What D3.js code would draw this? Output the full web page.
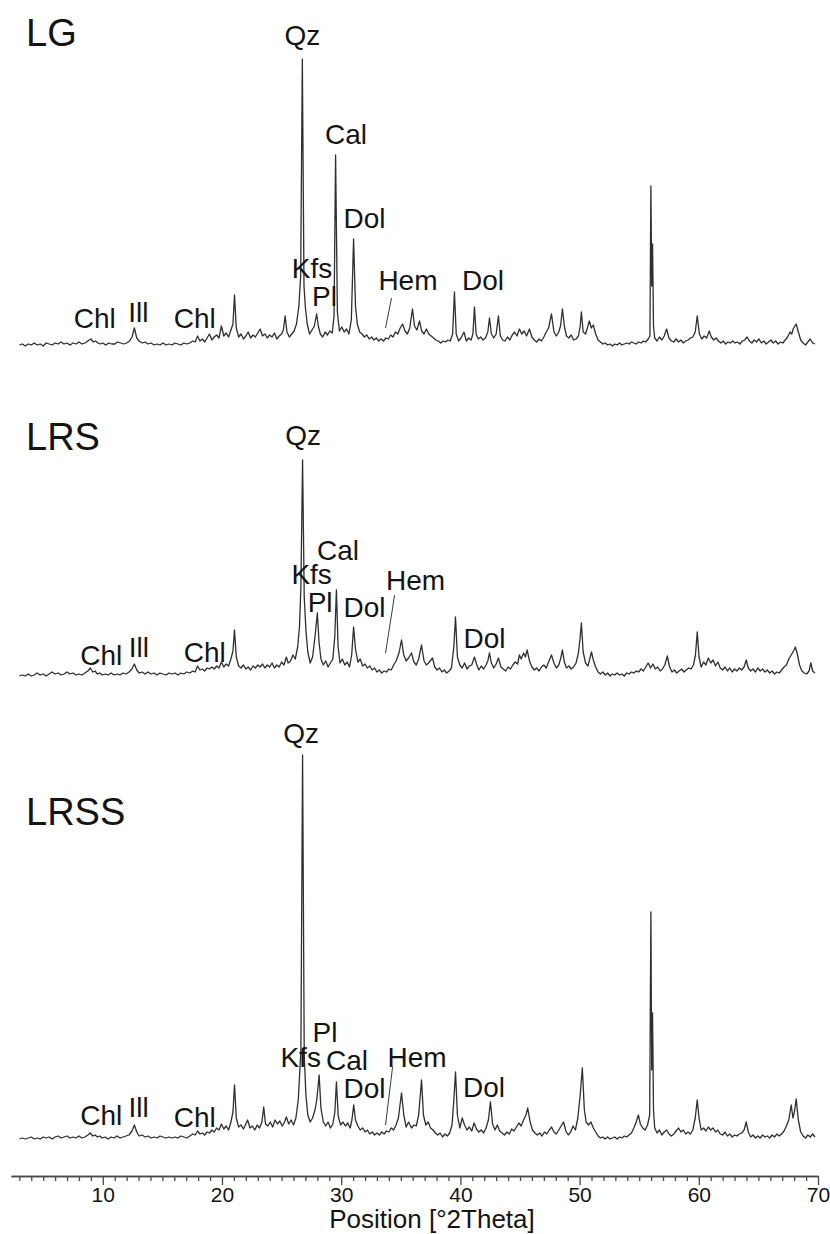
<!DOCTYPE html>
<html lang="en">
<head>
<meta charset="utf-8"/>
<style>
  body { margin: 0; background: #ffffff; }
  text { font-family: "Liberation Sans", Arial, sans-serif; fill: #141414; }
  .trace { fill: none; stroke: #2f2f2f; stroke-width: 1.3; stroke-linejoin: round; }
  .pointer { stroke: #3c3c3c; stroke-width: 1; }
  .axis path, .axis line { stroke: #4a4a4a; stroke-width: 1.3; }
  .axis text { font-size: 21px; fill: #141414; font-family: "Liberation Sans", Arial, sans-serif; }
</style>
</head>
<body>
<svg id="chart" width="830" height="1234"></svg>

<script src="https://d3js.org/d3.v7.min.js"></script>
<script>
// ---- data: diffractograms, [°2Theta, intensity above baseline] ----
let lgPattern = [
 [3.0,1],[3.25,2],[3.5,0],[3.75,2],[4.0,1],[4.25,3],[4.5,1],[4.75,2],[5.0,0],[5.25,3],[5.5,2],[5.75,1],
 [6.0,3],[6.25,2],[6.5,4],[6.75,2],[7.0,3],[7.25,1],[7.5,3],[7.75,2],[8.0,4],[8.25,2],[8.5,3],[8.75,5],
 [9.0,7],[9.2,4],[9.4,5],[9.6,3],[9.8,2],[10.0,3],[10.25,1],[10.5,3],[10.75,2],[11.0,2],[11.25,4],[11.5,3],
 [11.75,2],[12.0,3],[12.25,5],[12.45,9],[12.65,18],[12.85,8],[13.05,5],[13.3,3],[13.55,4],[13.8,2],[14.05,3],
 [14.3,1],[14.55,2],[14.8,1],[15.05,3],[15.3,1],[15.55,2],[15.8,1],[16.05,3],[16.3,2],[16.55,1],[16.8,3],
 [17.05,2],[17.3,3],[17.55,5],[17.75,4],[17.95,10],[18.15,5],[18.35,7],[18.55,4],[18.75,8],[18.95,12],
 [19.15,6],[19.35,9],[19.55,11],[19.75,8],[19.95,20],[20.15,10],[20.35,13],[20.55,9],[20.75,16],[20.92,22],
 [21.05,51],[21.2,18],[21.4,9],[21.6,12],[21.8,7],[22.0,10],[22.2,14],[22.4,8],[22.6,11],[22.8,9],[23.0,13],
 [23.2,17],[23.4,10],[23.6,12],[23.8,8],[24.0,11],[24.2,9],[24.4,13],[24.6,7],[24.8,10],[25.0,12],[25.15,16],
 [25.3,30],[25.45,14],[25.65,9],[25.85,12],[26.05,15],[26.25,22],[26.45,40],[26.6,70],[26.74,287],[26.88,60],
 [27.0,38],[27.15,22],[27.35,12],[27.55,16],[27.75,20],[27.94,32],[28.08,20],[28.25,12],[28.45,9],[28.65,14],
 [28.85,11],[29.05,15],[29.25,13],[29.4,30],[29.53,191],[29.68,34],[29.85,15],[30.05,19],[30.25,14],
 [30.45,17],[30.65,12],[30.85,26],[31.04,107],[31.2,40],[31.35,22],[31.55,14],[31.75,12],[31.95,9],
 [32.15,11],[32.35,7],[32.55,9],[32.75,6],[32.95,8],[33.15,5],[33.35,7],[33.55,5],[33.75,8],[33.95,7],
 [34.15,11],[34.35,9],[34.55,14],[34.75,12],[34.95,18],[35.15,22],[35.35,15],[35.55,12],[35.75,18],
 [35.98,37],[36.15,20],[36.35,16],[36.57,25],[36.75,15],[36.95,12],[37.15,17],[37.35,12],[37.55,10],
 [37.75,8],[37.95,6],[38.15,5],[38.35,3],[38.55,5],[38.75,4],[38.95,6],[39.15,5],[39.35,12],[39.5,54],
 [39.65,12],[39.85,5],[40.05,8],[40.3,14],[40.5,5],[40.7,8],[40.9,6],[41.05,12],[41.18,39],[41.32,12],
 [41.5,7],[41.7,9],[41.9,6],[42.1,8],[42.3,14],[42.44,28],[42.6,12],[42.8,8],[43.0,12],[43.19,30],[43.35,10],
 [43.55,6],[43.75,5],[43.95,9],[44.15,6],[44.35,11],[44.55,14],[44.75,10],[44.95,17],[45.15,12],[45.35,15],
 [45.55,10],[45.79,17],[46.0,9],[46.2,6],[46.4,4],[46.6,7],[46.8,5],[47.0,9],[47.2,14],[47.4,18],[47.64,32],
 [47.85,14],[48.05,10],[48.25,14],[48.4,20],[48.56,37],[48.72,20],[48.9,10],[49.1,8],[49.3,11],[49.5,6],
 [49.7,7],[49.9,10],[50.05,20],[50.15,34],[50.3,14],[50.5,12],[50.65,18],[50.82,25],[50.98,18],[51.15,21],
 [51.35,12],[51.55,6],[51.75,4],[51.95,2],[52.15,3],[52.35,1],[52.55,2],[52.75,0],[52.95,2],[53.15,1],
 [53.35,3],[53.55,1],[53.75,2],[53.95,3],[54.15,2],[54.35,4],[54.55,3],[54.75,2],[54.95,4],[55.15,3],
 [55.35,5],[55.55,4],[55.75,7],[55.9,10],[55.98,160],[56.05,60],[56.12,102],[56.2,20],[56.3,8],[56.5,5],
 [56.7,9],[56.9,6],[57.1,10],[57.3,17],[57.5,8],[57.7,5],[57.9,4],[58.1,7],[58.3,4],[58.5,6],[58.7,3],
 [58.9,5],[59.1,6],[59.3,8],[59.5,9],[59.7,14],[59.87,30],[60.05,12],[60.25,7],[60.45,10],[60.65,8],
 [60.88,15],[61.05,9],[61.25,6],[61.45,8],[61.65,5],[61.85,3],[62.05,5],[62.25,2],[62.45,4],[62.65,3],
 [62.85,5],[63.05,3],[63.25,4],[63.45,2],[63.65,5],[63.85,6],[64.05,9],[64.25,5],[64.45,3],[64.65,6],
 [64.85,4],[65.05,7],[65.25,3],[65.45,5],[65.65,2],[65.85,4],[66.05,6],[66.25,3],[66.45,5],[66.65,2],
 [66.85,4],[67.05,3],[67.25,6],[67.45,9],[67.65,14],[67.8,12],[67.95,18],[68.17,22],[68.35,14],[68.55,6],
 [68.75,3],[68.95,1],[69.15,4],[69.35,7],[69.55,3],[69.75,2]
]

let lrsPattern = [
 [3.0,1],[3.25,2],[3.5,1],[3.75,3],[4.0,1],[4.25,2],[4.5,4],[4.75,2],[5.0,3],[5.25,1],[5.5,3],[5.75,5],
 [6.0,3],[6.25,4],[6.5,2],[6.75,3],[7.0,5],[7.25,3],[7.5,4],[7.75,2],[8.0,3],[8.25,2],[8.5,4],[8.75,6],
 [8.95,9],[9.15,5],[9.35,6],[9.55,3],[9.75,4],[9.95,2],[10.2,3],[10.45,2],[10.7,4],[10.95,2],[11.2,3],
 [11.45,2],[11.7,4],[11.95,3],[12.2,5],[12.45,8],[12.65,13],[12.85,7],[13.05,4],[13.3,5],[13.55,3],[13.8,5],
 [14.05,3],[14.3,4],[14.55,2],[14.8,4],[15.05,3],[15.3,2],[15.55,4],[15.8,3],[16.05,4],[16.3,2],[16.55,4],
 [16.8,3],[17.05,5],[17.3,4],[17.55,6],[17.75,5],[17.95,11],[18.15,7],[18.35,8],[18.55,6],[18.75,9],
 [18.95,8],[19.15,10],[19.35,8],[19.55,11],[19.75,9],[19.95,15],[20.15,10],[20.35,13],[20.55,11],[20.75,18],
 [20.92,26],[21.05,47],[21.2,20],[21.4,11],[21.6,9],[21.8,12],[22.0,8],[22.2,10],[22.4,7],[22.6,11],[22.8,9],
 [23.0,12],[23.2,10],[23.4,13],[23.6,9],[23.8,12],[24.0,10],[24.2,14],[24.4,9],[24.6,12],[24.8,10],[25.0,15],
 [25.2,12],[25.4,20],[25.55,14],[25.75,16],[25.95,22],[26.15,18],[26.35,30],[26.5,50],[26.62,90],[26.76,217],
 [26.9,80],[27.05,45],[27.2,25],[27.4,14],[27.6,20],[27.8,40],[28.0,64],[28.14,35],[28.3,18],[28.5,12],
 [28.7,16],[28.9,10],[29.1,14],[29.3,18],[29.46,40],[29.6,87],[29.74,30],[29.9,14],[30.1,18],[30.3,12],
 [30.5,15],[30.7,10],[30.88,22],[31.04,50],[31.2,28],[31.4,15],[31.6,18],[31.8,11],[32.0,13],[32.2,9],
 [32.4,11],[32.6,7],[32.8,9],[33.0,5],[33.2,7],[33.4,4],[33.6,6],[33.8,5],[34.0,8],[34.2,7],[34.4,12],
 [34.6,16],[34.85,24],[35.06,37],[35.25,22],[35.45,16],[35.65,19],[35.9,24],[36.1,15],[36.3,12],[36.5,18],
 [36.74,32],[36.95,16],[37.15,12],[37.4,15],[37.66,19],[37.85,10],[38.05,7],[38.25,9],[38.45,5],[38.65,7],
 [38.85,4],[39.05,6],[39.25,9],[39.45,30],[39.59,60],[39.75,20],[39.95,12],[40.15,9],[40.35,14],[40.55,8],
 [40.75,11],[40.95,12],[41.18,20],[41.35,13],[41.55,7],[41.75,11],[41.95,8],[42.15,12],[42.3,16],[42.44,24],
 [42.6,14],[42.8,9],[43.0,13],[43.19,19],[43.4,10],[43.6,8],[43.8,6],[44.0,10],[44.2,8],[44.4,12],[44.6,15],
 [44.8,13],[44.95,22],[45.1,18],[45.3,24],[45.45,20],[45.6,27],[45.8,16],[46.0,10],[46.2,7],[46.4,9],
 [46.6,6],[46.8,10],[47.0,12],[47.2,9],[47.4,15],[47.64,22],[47.85,14],[48.05,9],[48.25,12],[48.4,18],
 [48.56,27],[48.72,15],[48.9,9],[49.1,11],[49.3,8],[49.5,10],[49.7,14],[49.9,24],[50.05,40],[50.15,54],
 [50.3,25],[50.5,14],[50.7,11],[50.85,18],[51.0,25],[51.15,17],[51.35,10],[51.55,5],[51.75,3],[51.95,5],
 [52.15,2],[52.35,4],[52.55,1],[52.75,3],[52.95,2],[53.15,4],[53.35,2],[53.55,3],[53.75,1],[53.95,4],
 [54.15,3],[54.35,5],[54.55,4],[54.75,6],[54.95,5],[55.15,8],[55.35,6],[55.55,10],[55.75,14],[55.95,9],
 [56.15,13],[56.35,8],[56.55,10],[56.75,6],[56.95,8],[57.15,12],[57.36,21],[57.55,10],[57.75,5],[57.95,7],
 [58.15,4],[58.35,6],[58.55,8],[58.75,5],[58.95,7],[59.15,9],[59.35,8],[59.55,12],[59.72,22],[59.87,45],
 [60.02,20],[60.2,10],[60.4,15],[60.6,12],[60.8,19],[61.0,14],[61.2,17],[61.4,11],[61.6,15],[61.8,9],
 [62.0,7],[62.2,10],[62.4,6],[62.6,9],[62.8,5],[63.0,8],[63.2,6],[63.4,9],[63.6,7],[63.8,10],[63.98,17],
 [64.15,9],[64.35,6],[64.55,8],[64.75,5],[64.95,9],[65.15,6],[65.35,8],[65.55,5],[65.75,7],[65.95,4],
 [66.15,6],[66.35,3],[66.55,5],[66.75,4],[66.95,7],[67.15,10],[67.35,12],[67.55,18],[67.75,22],[67.95,26],
 [68.1,30],[68.25,24],[68.45,12],[68.65,6],[68.85,4],[69.05,3],[69.25,6],[69.4,14],[69.55,6],[69.75,4]
]

let lrssPattern = [
 [3.0,1],[3.25,2],[3.5,1],[3.75,2],[4.0,3],[4.25,1],[4.5,2],[4.75,1],[5.0,3],[5.25,2],[5.5,3],[5.75,1],
 [6.0,3],[6.25,4],[6.5,2],[6.75,3],[7.0,4],[7.25,2],[7.5,3],[7.75,2],[8.0,4],[8.25,2],[8.5,3],[8.75,5],
 [8.95,7],[9.15,4],[9.35,5],[9.55,3],[9.75,4],[9.95,2],[10.2,3],[10.45,1],[10.7,3],[10.95,2],[11.2,4],
 [11.45,2],[11.7,3],[11.95,4],[12.2,5],[12.45,9],[12.65,15],[12.85,8],[13.05,4],[13.3,5],[13.55,3],[13.8,4],
 [14.05,2],[14.3,3],[14.55,2],[14.8,4],[15.05,3],[15.3,2],[15.55,3],[15.8,2],[16.05,3],[16.3,2],[16.55,4],
 [16.8,3],[17.05,2],[17.3,4],[17.55,6],[17.75,5],[17.95,9],[18.15,6],[18.35,7],[18.55,5],[18.75,8],
 [18.95,7],[19.15,10],[19.35,8],[19.55,12],[19.75,10],[19.95,16],[20.15,11],[20.35,14],[20.55,10],
 [20.75,18],[20.92,28],[21.05,55],[21.2,22],[21.4,13],[21.6,15],[21.8,11],[22.0,16],[22.15,20],[22.35,12],
 [22.55,14],[22.75,10],[22.95,15],[23.15,12],[23.35,18],[23.5,33],[23.65,16],[23.85,14],[24.05,18],
 [24.25,13],[24.45,20],[24.65,16],[24.85,19],[25.05,14],[25.25,18],[25.4,23],[25.6,16],[25.8,20],[26.0,15],
 [26.2,22],[26.4,40],[26.62,90],[26.76,385],[26.9,85],[27.04,45],[27.2,25],[27.4,18],[27.6,22],[27.8,30],
 [27.95,40],[28.15,65],[28.3,32],[28.5,18],[28.7,14],[28.9,18],[29.1,12],[29.3,16],[29.47,28],[29.6,58],
 [29.75,24],[29.95,15],[30.15,18],[30.35,14],[30.55,17],[30.75,12],[30.9,20],[31.05,35],[31.2,20],
 [31.4,14],[31.6,10],[31.8,12],[32.0,8],[32.2,10],[32.4,6],[32.6,8],[32.8,5],[33.0,7],[33.2,5],[33.4,8],
 [33.6,6],[33.8,9],[34.0,8],[34.2,12],[34.4,10],[34.6,15],[34.8,22],[35.06,47],[35.25,25],[35.45,13],
 [35.65,18],[35.9,12],[36.1,15],[36.3,14],[36.5,25],[36.74,60],[36.9,25],[37.1,15],[37.3,18],[37.5,12],
 [37.7,10],[37.9,7],[38.1,5],[38.3,7],[38.5,3],[38.7,6],[38.9,4],[39.1,7],[39.3,15],[39.45,40],[39.59,68],
 [39.75,25],[39.95,12],[40.15,22],[40.35,15],[40.55,10],[40.75,13],[40.95,9],[41.15,17],[41.35,11],
 [41.55,8],[41.75,10],[41.95,7],[42.15,12],[42.35,20],[42.52,38],[42.7,16],[42.9,10],[43.1,15],[43.3,9],
 [43.5,7],[43.7,5],[43.9,8],[44.1,6],[44.3,11],[44.5,9],[44.7,13],[44.9,17],[45.1,14],[45.3,20],[45.5,25],
 [45.65,32],[45.85,18],[46.05,10],[46.25,7],[46.45,5],[46.65,7],[46.85,4],[47.05,8],[47.25,6],[47.45,10],
 [47.65,13],[47.85,8],[48.05,6],[48.25,10],[48.45,14],[48.65,18],[48.85,9],[49.05,5],[49.25,8],[49.45,14],
 [49.65,10],[49.85,22],[50.05,45],[50.23,72],[50.4,30],[50.55,18],[50.75,15],[50.95,18],[51.15,12],
 [51.35,8],[51.55,4],[51.75,2],[51.95,3],[52.15,1],[52.35,3],[52.55,1],[52.75,2],[52.95,3],[53.15,1],
 [53.35,3],[53.55,2],[53.75,4],[53.95,3],[54.15,5],[54.35,7],[54.55,12],[54.75,18],[54.93,25],[55.1,16],
 [55.3,12],[55.5,10],[55.7,15],[55.88,25],[55.98,228],[56.05,70],[56.12,127],[56.2,30],[56.3,12],[56.5,7],
 [56.7,10],[56.9,5],[57.1,8],[57.3,10],[57.5,6],[57.7,4],[57.9,6],[58.1,9],[58.3,12],[58.5,8],[58.7,10],
 [58.9,6],[59.1,8],[59.3,6],[59.5,10],[59.7,22],[59.87,40],[60.02,22],[60.2,10],[60.4,12],[60.6,9],
 [60.8,13],[61.0,10],[61.2,12],[61.4,8],[61.6,10],[61.8,6],[62.0,5],[62.2,8],[62.4,4],[62.6,6],[62.8,3],
 [63.0,5],[63.2,4],[63.4,6],[63.6,7],[63.8,10],[63.98,18],[64.15,8],[64.35,3],[64.55,5],[64.75,2],[64.95,4],
 [65.15,2],[65.35,5],[65.55,3],[65.75,4],[65.95,2],[66.15,5],[66.35,3],[66.55,6],[66.75,4],[66.95,6],
 [67.15,9],[67.35,14],[67.55,20],[67.75,35],[67.9,22],[68.05,30],[68.17,41],[68.35,20],[68.55,8],[68.75,4],
 [68.95,2],[69.15,5],[69.35,3],[69.55,6],[69.75,3]
]

// phase labels: [text, °2Theta (centre), intensity of text baseline]
let lgLabels = [
 ["Qz",26.74,301],["Cal",30.41,202],["Dol",31.96,118],["Kfs",27.56,68],["Pl",28.6,40],
 ["Hem",35.6,56],["Dol",41.9,56],["Chl",9.33,18],["Ill",12.98,24],["Chl",17.71,18]
]
let lrsLabels = [
 ["Qz",26.8,232],["Cal",29.74,117],["Kfs",27.52,93],["Pl",28.23,65],["Dol",31.96,60],
 ["Hem",36.24,87],["Dol",42.02,29],["Chl",9.87,12],["Ill",13.02,20],["Chl",18.55,15]
]
let lrssLabels = [
 ["Qz",26.64,397],["Pl",28.64,98],["Kfs",26.6,73],["Cal",30.49,70],["Dol",31.96,42],
 ["Hem",36.36,73],["Dol",41.98,43],["Chl",9.87,15],["Ill",13.0,23],["Chl",17.71,13]
]
// Hem pointer lines: [theta1, int1, theta2, int2]
let lgHemLine = [34.22,48,33.72,18]
let lrsHemLine = [34.48,82,33.72,24]
let lrssHemLine = [34.31,73,33.72,15]

let sampleNames = ["LG","LRS","LRSS"]
let majorTicks = [10,20,30,40,50,60,70]
let minorTicks = d3.range(3,71).filter(d => d % 10 !== 0)
let axisTitle = "Position [°2Theta]"

// ---- layout ----
let svg = d3.select("#chart")
let baselines = [346, 677, 1140]   // y of each pattern's zero line
let axisY = 1176

let xScale = d3.scaleLinear()
	.domain([2.3, 70])
	.range([11, 818])

// intensity -> pixels above baseline (same for all three panels)
let yScale = d3.scaleLinear()
	.domain([0, 400])
	.range([0, -400])

let line = d3.line()
	.x(d => xScale(d[0]))
	.y(d => yScale(d[1]))

let panels = [
	{name: sampleNames[0], data: lgPattern, labels: lgLabels, hem: lgHemLine, nameY: 46},
	{name: sampleNames[1], data: lrsPattern, labels: lrsLabels, hem: lrsHemLine, nameY: 450},
	{name: sampleNames[2], data: lrssPattern, labels: lrssLabels, hem: lrssHemLine, nameY: 825}
]

panels.forEach((p, i) => {
	let g = svg.append("g")
		.attr("transform", "translate(0," + baselines[i] + ")")

	g.append("path")
		.datum(p.data)
		.attr("class", "trace")
		.attr("d", line)

	g.selectAll(".peak-label")
		.data(p.labels)
		.enter()
		.append("text")
		.attr("class", "peak-label")
		.attr("x", d => xScale(d[1]))
		.attr("y", d => yScale(d[2]))
		.attr("text-anchor", "middle")
		.style("font-size", "28px")
		.text(d => d[0])

	g.append("line")
		.attr("class", "pointer")
		.attr("x1", xScale(p.hem[0]))
		.attr("y1", yScale(p.hem[1]))
		.attr("x2", xScale(p.hem[2]))
		.attr("y2", yScale(p.hem[3]))

	svg.append("text")
		.attr("x", 26)
		.attr("y", p.nameY)
		.style("font-size", "38px")
		.text(p.name)
})

// x axis: minor ticks every degree, labelled ticks every 10
svg.append("g")
	.attr("class", "axis")
	.attr("transform", "translate(0," + axisY + ")")
	.call(d3.axisBottom(xScale).tickValues(minorTicks).tickSize(5).tickSizeOuter(0).tickFormat(""))

svg.append("g")
	.attr("class", "axis")
	.attr("transform", "translate(0," + axisY + ")")
	.call(d3.axisBottom(xScale).tickValues(majorTicks).tickSize(9).tickSizeOuter(0).tickPadding(2))

svg.append("text")
	.attr("x", 432)
	.attr("y", 1228)
	.attr("text-anchor", "middle")
	.style("font-size", "26px")
	.text(axisTitle)
</script>
</body>
</html>
